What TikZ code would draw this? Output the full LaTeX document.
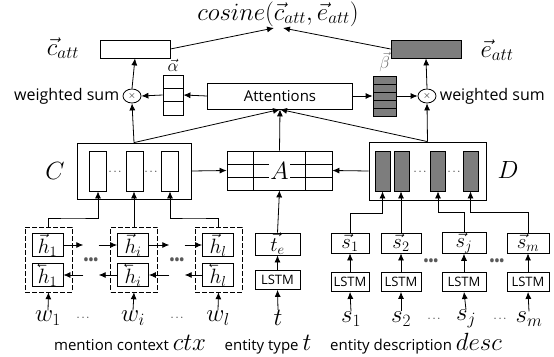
\documentclass[tikz,border=0pt]{standalone}
\usepackage{amsmath,amssymb}
\usepackage{fontspec}
\newfontfamily\uisans{Open Sans}
\usetikzlibrary{arrows.meta,shapes.geometric,positioning}

\definecolor{cellgray}{RGB}{125,125,125}
\newcommand{\lvec}[1]{\reflectbox{$\vec{\reflectbox{$#1$}}$}}
\newcommand{\mbig}{\fontsize{23}{25}\selectfont}
\newcommand{\mcap}{\fontsize{24}{26}\selectfont}
\newcommand{\sansf}{\uisans\fontsize{15}{17}\selectfont}

\begin{document}
\begin{tikzpicture}[x=1pt, y=-1pt, >={Latex[length=7pt,width=6pt]}, line width=0.8pt,
  vbox/.style={draw, inner sep=0pt, minimum width=70pt, minimum height=18pt},
  cellv/.style={draw, inner sep=0pt, minimum width=17pt, minimum height=40pt},
  gcellv/.style={cellv, minimum width=15pt, fill=cellgray},
  hbox/.style={draw, inner sep=0pt, minimum width=31pt, minimum height=20pt, font=\fontsize{21}{22}\selectfont},
  lstm/.style={draw, inner sep=0pt, minimum height=19pt, font=\uisans\fontsize{13}{14}\selectfont},
  blk/.style={draw, dash pattern=on 5pt off 2pt, line width=0.5pt, inner sep=0pt, minimum width=47pt, minimum height=65pt},
  sumop/.style={draw, ellipse, inner sep=0pt, minimum width=18pt, minimum height=14pt},
  lab/.style={font=\mbig, inner sep=0pt},
  wsum/.style={font=\uisans\fontsize{16}{18}\selectfont, inner sep=0pt},
  capt/.style={font=\sansf, inner sep=0pt, anchor=base},
  bigdots/.style={inner sep=0pt, text=black!65, font=\uisans\bfseries\fontsize{13}{14}\selectfont},
  smalldots/.style={inner sep=0pt, font=\fontsize{11}{11}\selectfont}]
  \useasboundingbox (0,0) rectangle (554,356);

  % top: similarity
  \node[lab, font=\fontsize{24}{26}\selectfont] (cosl) at (278,14) {$cosine(\vec{c}_{att},\vec{e}_{att})$};
  \coordinate (cin1) at (274,28);
  \coordinate (cin2) at (283,28);
  \node[vbox] (catt) at (135,49) {};
  \node[vbox, fill=cellgray] (eatt) at (426,49) {};
  \node[lab] (cattl) at (63,48) {$\vec{c}_{att}$};
  \node[lab] (eattl) at (497,50) {$\vec{e}_{att}$};
  \draw[->] (catt.east) -- (cin1);
  \draw[->] (eatt.west) -- (cin2);

  % attention weights
  \node[draw, minimum width=145pt, minimum height=26pt, inner sep=0pt, font=\sansf] (att) at (280,96) {Attentions};
  \node[draw, inner sep=0pt, minimum width=20pt, minimum height=40pt] (alpha) at (173,95) {};
  \foreach \y in {88.3,101.7} \draw (163,\y) -- (183,\y);
  \node[lab, font=\fontsize{17}{18}\selectfont, above=3pt of alpha] (alphal) {$\vec{\alpha}$};
  \node[draw, fill=cellgray, inner sep=0pt, minimum width=23pt, minimum height=40pt] (beta) at (384.5,96) {};
  \foreach \y in {84,92,100,108} \draw (373,\y) -- (396,\y);
  \node[lab, font=\fontsize{17}{18}\selectfont, text=black!55, above=3pt of beta] (betal) {$\vec{\beta}$};

  \node[sumop] (lsum) at (132,96) {$\times$};
  \node[sumop] (rsum) at (427,96) {$\times$};
  \node[wsum, left=3pt of lsum] (lws) {weighted sum};
  \node[wsum, right=3pt of rsum] (rws) {weighted sum};

  \draw[->] (att.west) -- (alpha.east);
  \draw[->] (alpha.west) -- (lsum.east);
  \draw[->] (lsum.north) -- (catt.south);
  \draw[->] (att.east) -- (beta.west);
  \draw[->] (beta.east) -- (rsum.west);
  \draw[->] (rsum.north) -- (eatt.south);

  % C, A, D
  \node[draw, inner sep=0pt, minimum width=114pt, minimum height=56pt] (cbox) at (134,171) {};
  \node[cellv] (c1) at (98,171) {};
  \node[cellv] (c2) at (134.5,171) {};
  \node[cellv] (c3) at (170,171) {};
  \node[smalldots] (cd1) at (116,172) {$\cdots$};
  \node[smalldots] (cd2) at (152,172) {$\cdots$};
  \node[lab, font=\fontsize{26}{28}\selectfont] (cl) at (55,171) {$C$};

  \node[draw, inner sep=0pt, minimum width=117pt, minimum height=58pt] (dbox) at (427.5,171) {};
  \node[gcellv] (d1) at (382.5,171) {};
  \node[gcellv] (d2) at (401.5,171) {};
  \node[gcellv] (d3) at (438,171) {};
  \node[gcellv] (d4) at (470.5,171) {};
  \node[smalldots] (dd1) at (421,172) {$\cdots$};
  \node[smalldots] (dd2) at (455,172) {$\cdots$};
  \node[lab, font=\fontsize{26}{28}\selectfont] (dl) at (508,170) {$D$};

  \node[draw, inner sep=0pt, minimum width=105pt, minimum height=39pt] (amat) at (279.5,170.5) {};
  \foreach \x in {253,305} \draw (\x,151) -- (\x,190);
  \foreach \y in {164,177} \draw (227,\y) -- (332,\y);
  \node[fill=white, inner sep=1pt, font=\fontsize{26}{28}\selectfont] (al) at (279.5,170.5) {$A$};

  \draw[->] (cbox.east) -- (amat.west);
  \draw[->] (dbox.west) -- (amat.east);
  \draw[->] (amat.north) -- (att.south);
  \draw[->] (cbox.north) -- (att.south);
  \draw[->] (dbox.north) -- (att.south);
  \draw[->] (cbox.north) -- (lsum.south);
  \draw[->] (dbox.north) -- (rsum.south);

  % mention context: bi-LSTM
  \node[blk] (b1) at (48.5,259.5) {};
  \node[blk] (b2) at (134,259.5) {};
  \node[blk] (b3) at (218.5,259.5) {};
  \node[hbox] (hf1) at (47.5,245) {$\vec{h}_1$};
  \node[hbox] (hb1) at (47.5,275) {$\lvec{h}_1$};
  \node[hbox] (hfi) at (133,245) {$\vec{h}_i$};
  \node[hbox] (hbi) at (133,275) {$\lvec{h}_i$};
  \node[hbox] (hfl) at (218,245) {$\vec{h}_l$};
  \node[hbox] (hbl) at (218,275) {$\lvec{h}_l$};
  \node[bigdots] (bd1) at (91,261) {\textbullet\textbullet\textbullet};
  \node[bigdots] (bd2) at (177,261) {\textbullet\textbullet\textbullet};

  \draw[->] (hf1.east) -- (hf1.east -| bd1.west);
  \draw[->] (hfi.west -| bd1.east) -- (hfi.west);
  \draw[->] (hfi.east) -- (hfi.east -| bd2.west);
  \draw[->] (hfl.west -| bd2.east) -- (hfl.west);
  \draw[->] (hbi.west) -- (hbi.west -| bd1.east);
  \draw[->] (hb1.east -| bd1.west) -- (hb1.east);
  \draw[->] (hbl.west) -- (hbl.west -| bd2.east);
  \draw[->] (hbi.east -| bd2.west) -- (hbi.east);

  \node[lab] (w1) at (48,318) {$w_1$};
  \node[lab] (wi) at (133,318) {$w_i$};
  \node[lab] (wl) at (218,318) {$w_l$};
  \node[smalldots] (wd1) at (84,318) {$\cdots$};
  \node[smalldots] (wd2) at (178,318) {$\cdots$};
  \foreach \w/\b in {w1/b1,wi/b2,wl/b3} \draw[->] (\w.north) -- (\b.south);

  \draw[->] (b1.north) |- (73,218) -| (c1.south);
  \draw[->] (b2.north) -- (b2.north |- c2.south);
  \draw[->] (b3.north) |- (194,218) -| (c3.south);

  % entity type
  \node[draw, inner sep=0pt, minimum width=45pt, minimum height=22pt, font=\fontsize{21}{22}\selectfont] (te) at (277.5,244) {$\vec{t}_e$};
  \node[lstm, minimum width=45pt] (tlstm) at (277.5,280) {LSTM};
  \node[lab] (tin) at (278,318) {$t$};
  \draw[->] (tin.north) -- (tlstm.south);
  \draw[->] (tlstm.north) -- (te.south);
  \draw[->] (te.north) -- (amat.south);

  % entity description
  \node[hbox, minimum width=38pt] (s1) at (350,243) {$\vec{s}_1$};
  \node[hbox, minimum width=40pt] (s2) at (401,243) {$\vec{s}_2$};
  \node[hbox, minimum width=44pt] (sj) at (464,243) {$\vec{s}_j$};
  \node[hbox, minimum width=42pt] (sm) at (528,243) {$\vec{s}_m$};
  \node[lstm, minimum width=38pt] (l1) at (350,282) {LSTM};
  \node[lstm, minimum width=40pt] (l2) at (401,282) {LSTM};
  \node[lstm, minimum width=44pt] (lj) at (464,282) {LSTM};
  \node[lstm, minimum width=42pt] (lm) at (528,282) {LSTM};
  \node[bigdots] (sd1) at (431,262) {\textbullet\textbullet\textbullet};
  \node[bigdots] (sd2) at (497,262) {\textbullet\textbullet\textbullet};
  \node[lab] (in1) at (351,319) {$s_1$};
  \node[lab] (in2) at (401,319) {$s_2$};
  \node[lab] (inj) at (466,319) {$s_j$};
  \node[lab] (inm) at (529,319) {$s_m$};
  \node[smalldots] (id1) at (435,319) {$\cdots$};
  \node[smalldots] (id2) at (501,319) {$\cdots$};
  \foreach \i/\l/\s in {in1/l1/s1,in2/l2/s2,inj/lj/sj,inm/lm/sm} {
    \draw[->] (\i.north) -- (\l.south);
    \draw[->] (\l.north) -- (\s.south);
  }
  \draw[->] (s1.north) |- (382.5,213) -- (d1.south);
  \draw[->] (s2.north) -- (s2.north |- d2.south);
  \draw[->] (sj.north) |- (438,212) -- (d3.south);
  \draw[->] (sm.north) |- (470.5,212) -- (d4.south);

  % captions
  \node[capt] (cap1) at (130,350) {mention context {\mcap$ctx$}};
  \node[capt] (cap2) at (268,350) {entity type {\mcap$t$}};
  \node[capt] (cap3) at (416,350) {entity description {\mcap$desc$}};
\end{tikzpicture}
\end{document}
